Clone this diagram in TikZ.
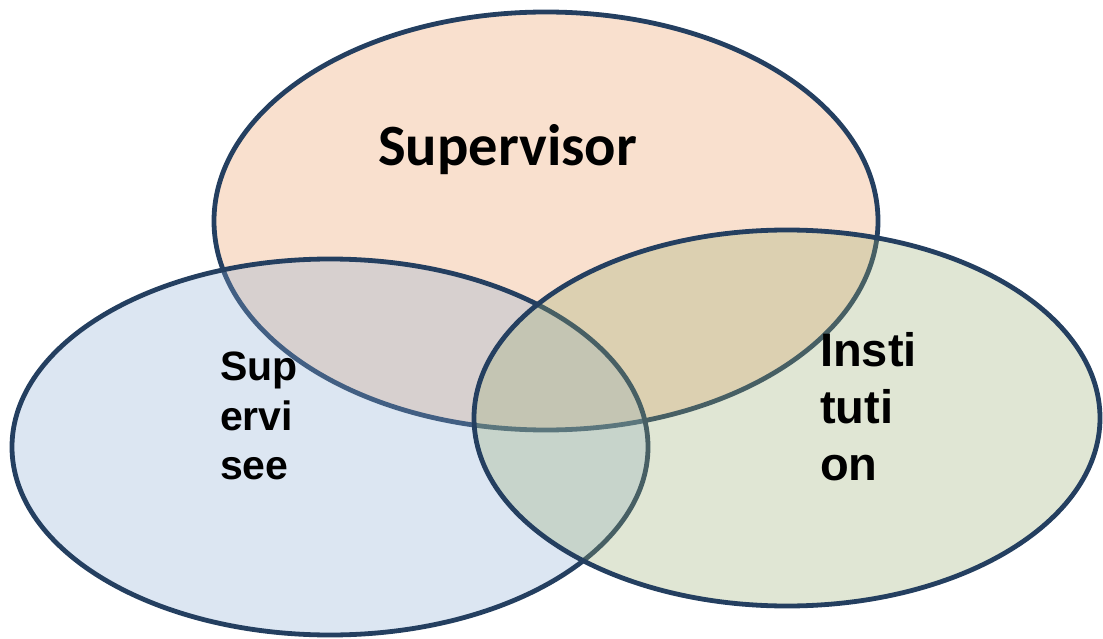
\documentclass[tikz,border=0pt]{standalone}
\usepackage{fontspec}
\setmainfont{Liberation Sans}
\newfontfamily\venntitle{Carlito}
\usepackage{tikz}
\definecolor{vennedge}{RGB}{36,63,96}
\definecolor{supfill}{RGB}{235,152,92}
\definecolor{seefill}{RGB}{138,172,212}
\definecolor{instfill}{RGB}{152,172,112}

\begin{document}
\begin{tikzpicture}[line cap=round,line join=round,x=1pt,y=-1pt,
    venn/.style={draw=vennedge,line width=4.8pt,fill opacity=0.3},
    lbl/.style={inner sep=0pt,align=left,anchor=north west}]
        \useasboundingbox (0,0) rectangle (1103,639);
        % the three sets
        \draw[venn,fill=supfill] (546,221) ellipse [x radius=332,y radius=209];
        \draw[venn,fill=seefill] (330,447) ellipse [x radius=318,y radius=188];
        \draw[venn,fill=instfill] (787,418) ellipse [x radius=313,y radius=188];
        % labels
        \node[inner sep=0pt,anchor=base west,font=\venntitle\bfseries\fontsize{58.5}{62}\selectfont] (supervisor) at (378,166) {Supervisor};
        \node[lbl,font=\bfseries\fontsize{41}{49.5}\selectfont] (supervisee) at (220,352) {Sup\\ervi\\see};
        \node[lbl,font=\bfseries\fontsize{47}{57}\selectfont] (institution) at (820,332) {Insti\\tuti\\on};
\end{tikzpicture}
\end{document}
